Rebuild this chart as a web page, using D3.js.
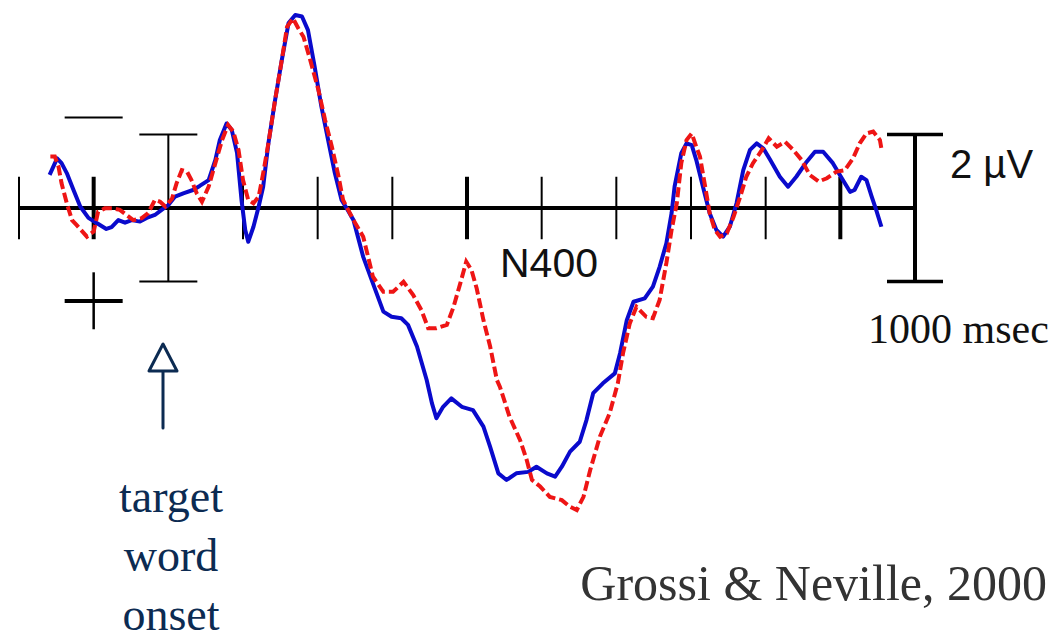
<!DOCTYPE html>
<html>
<head>
<meta charset="utf-8">
<script src="https://cdn.jsdelivr.net/npm/d3@7"></script>
<style>
  body{margin:0;background:#fff;}
  svg{display:block;}
  .sans{font-family:"Liberation Sans",Arial,sans-serif;}
  .serif{font-family:"Liberation Serif","Times New Roman",serif;}
</style>
</head>
<body>
<svg id="chart" width="1057" height="642"></svg>
<script>
// ms after target word onset / amplitude in microvolts (negative plotted up)
let blueTimes=[-159,-149,-143,-136,-127,-118,-107,-96,-83,-76,-67,-58,-49,-38,-29,-18,-9,0,9,20,33,42,54,63,69,78,85,92,98,103,107,114,121,127,134,143,152,161,170,179,187,196,205,214,223,232,240,248,261,274,288,299,312,321,333,346,353,359,368,379,393,408,422,431,442,453,466,482,493,507,518,527,538,551,560,569,582,598,605,614,623,638,649,658,667,674,678,687,694,701,707,716,725,734,743,752,761,770,779,788,797,806,819,830,841,855,866,877,890,902,913,919,928,935,942,948,955];
let blueValues=[-0.90,-1.35,-1.22,-0.95,-0.49,-0.04,0.27,0.41,0.57,0.52,0.33,0.40,0.33,0.37,0.27,0.19,0.05,-0.08,-0.31,-0.40,-0.49,-0.60,-0.76,-1.31,-1.85,-2.30,-2.12,-1.50,-0.22,0.60,0.92,0.51,-0.04,-0.58,-1.76,-2.94,-4.03,-5.03,-5.25,-5.21,-4.84,-3.84,-2.76,-1.85,-0.95,-0.22,0.05,0.33,1.33,2.05,2.82,2.96,3.00,3.18,3.77,4.68,5.31,5.72,5.41,5.18,5.41,5.50,5.95,6.50,7.22,7.40,7.22,7.18,7.04,7.22,7.31,7.04,6.63,6.36,5.77,5.04,4.77,4.50,3.95,3.05,2.55,2.46,2.14,1.60,0.96,0.14,-0.58,-1.49,-1.76,-1.71,-1.31,-0.58,0.14,0.60,0.78,0.51,-0.13,-1.03,-1.58,-1.76,-1.62,-1.31,-0.85,-0.58,-0.85,-1.26,-1.53,-1.53,-1.22,-0.81,-0.44,-0.49,-0.85,-0.76,-0.31,0.05,0.51];

let redTimes=[-158,-152,-147,-143,-136,-129,-123,-109,-100,-94,-85,-74,-65,-56,-47,-36,-27,-18,-11,-4,5,11,18,25,31,38,45,54,63,72,80,87,94,100,107,114,121,127,134,143,152,159,167,174,181,190,201,210,219,228,234,248,261,274,288,301,315,328,339,348,359,373,382,391,399,406,413,422,431,440,444,457,471,480,487,498,511,527,538,547,556,565,578,591,602,609,618,627,640,649,658,667,674,681,687,694,701,707,712,719,725,732,739,748,757,766,774,783,795,804,815,826,837,848,859,871,882,895,906,917,926,935,944,953,955];
let redValues=[-1.40,-1.40,-1.12,-0.67,-0.13,0.33,0.46,0.78,0.64,0.10,0.01,0.01,0.05,0.19,0.33,0.28,0.14,-0.22,-0.17,-0.04,-0.26,-0.67,-1.03,-0.99,-0.76,-0.40,-0.17,-0.58,-1.22,-1.85,-2.26,-2.08,-1.58,-0.76,-0.22,-0.13,-0.31,-0.94,-1.76,-2.94,-4.03,-4.93,-5.16,-4.89,-4.66,-4.03,-3.21,-2.39,-1.67,-0.85,-0.22,0.33,0.78,1.87,2.28,2.28,2.01,2.37,2.78,3.27,3.27,3.18,2.69,2.05,1.46,1.69,2.19,3.05,3.77,4.68,4.86,5.68,6.31,6.86,7.40,7.58,7.86,7.95,8.13,8.22,7.86,7.13,6.22,5.59,4.77,3.95,3.14,2.69,2.96,3.00,2.50,1.50,0.60,-0.13,-1.22,-1.85,-2.03,-1.67,-1.40,-0.58,0.14,0.60,0.78,0.69,0.24,-0.31,-0.85,-1.22,-1.58,-1.90,-1.67,-1.80,-1.58,-1.31,-0.90,-0.72,-0.81,-0.99,-1.03,-1.35,-1.76,-2.03,-2.08,-1.85,-1.62];

let tickTimes=[-200,-100,100,200,300,400,500,600,700,800,900];
let majorTicks=[-100,400,900];
let onsetLines=["target","word","onset"];

const svg=d3.select("#chart");
const x=d3.scaleLinear().domain([-200,1000]).range([19,915]);
const y=d3.scaleLinear().domain([-2,2]).range([134.5,281.5]);

const drawBar=(cx,w,sw,capw)=>{
  let g=svg.append("g").attr("stroke","#000");
  g.append("line").attr("x1",cx).attr("x2",cx).attr("y1",y(-2)).attr("y2",y(2)).attr("stroke-width",sw);
  g.selectAll("cap").data([-2,2]).enter().append("line")
    .attr("x1",cx-w).attr("x2",cx+w)
    .attr("y1",(d)=>y(d)).attr("y2",(d)=>y(d))
    .attr("stroke-width",capw);
}

const render=()=>{
  // baseline + ticks
  svg.append("line")
    .attr("x1",x(-200)).attr("x2",x(1000))
    .attr("y1",y(0)).attr("y2",y(0))
    .attr("stroke","#000").attr("stroke-width",4);
  svg.selectAll(".tick").data(tickTimes).enter()
    .append("line")
      .attr("class","tick")
      .attr("x1",(d)=>x(d)).attr("x2",(d)=>x(d))
      .attr("y1",y(-0.85)).attr("y2",y(0.85))
      .attr("stroke","#000")
      .attr("stroke-width",(d)=>majorTicks.includes(d)?4:2);

  // onset bar and calibration bar
  drawBar(x(0),29,2,2);
  drawBar(x(1000),28,4,3.5);

  // polarity markers
  svg.append("line").attr("x1",x(-100)-29).attr("x2",x(-100)+29)
    .attr("y1",y(-2.46)).attr("y2",y(-2.46)).attr("stroke","#000").attr("stroke-width",2);
  svg.append("line").attr("x1",x(-100)-29).attr("x2",x(-100)+29)
    .attr("y1",y(2.53)).attr("y2",y(2.53)).attr("stroke","#000").attr("stroke-width",4);
  svg.append("line").attr("x1",x(-100)).attr("x2",x(-100))
    .attr("y1",y(1.75)).attr("y2",y(3.3)).attr("stroke","#000").attr("stroke-width",2.5);

  const line=d3.line().x((d)=>x(d[0])).y((d)=>y(d[1]));
  svg.append("path")
    .datum(d3.zip(blueTimes,blueValues))
    .attr("d",line)
    .attr("fill","none").attr("stroke","#0a0acc").attr("stroke-width",4)
    .attr("stroke-linejoin","round");
  svg.append("path")
    .datum(d3.zip(redTimes,redValues))
    .attr("d",line)
    .attr("fill","none").attr("stroke","#ee1515").attr("stroke-width",4)
    .attr("stroke-dasharray","10,4");

  // labels
  svg.append("text").attr("class","sans")
    .attr("x",500).attr("y",277).attr("font-size",41).attr("fill","#111")
    .text("N400");
  svg.append("text").attr("class","sans")
    .attr("x",950).attr("y",178).attr("font-size",40).attr("fill","#111")
    .text("2 µV");
  svg.append("text").attr("class","serif")
    .attr("x",868).attr("y",343).attr("font-size",42).attr("fill","#111")
    .text("1000 msec");

  // onset arrow
  let navy="#0c2b52";
  svg.append("line").attr("x1",163).attr("x2",163).attr("y1",370).attr("y2",428)
    .attr("stroke",navy).attr("stroke-width",3).attr("stroke-linecap","round");
  svg.append("path").attr("d","M163,344 L149,371 L177,371 Z")
    .attr("fill","#fff").attr("stroke",navy).attr("stroke-width",3).attr("stroke-linejoin","round");
  svg.append("text").attr("class","serif")
    .attr("text-anchor","middle").attr("fill",navy).attr("font-size",46)
    .selectAll("tspan").data(onsetLines).enter()
      .append("tspan")
      .attr("x",171)
      .attr("y",(d,i)=>512+i*59)
      .text((d)=>d);

  svg.append("text").attr("class","serif")
    .attr("x",1047).attr("y",600).attr("text-anchor","end")
    .attr("font-size",50).attr("fill","#333")
    .text("Grossi & Neville, 2000");
}

render();
</script>
</body>
</html>
